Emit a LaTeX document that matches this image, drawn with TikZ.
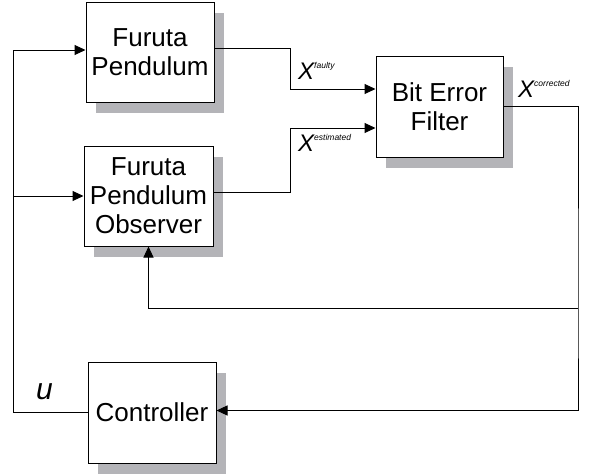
\documentclass[tikz,border=0pt]{standalone}
\usepackage{fontspec}
\setmainfont{Liberation Sans}
\usetikzlibrary{arrows.meta,shadows}
\definecolor{shadowgray}{RGB}{180,180,184}
\newcommand{\xsig}[1]{X\raisebox{10.5pt}{\fontsize{8.5}{8.5}\selectfont #1}}

\begin{document}
\begin{tikzpicture}[x=1pt, y=-1pt,
    blk/.style={draw, fill=white, line width=1pt, inner sep=0pt, align=center,
      font=\fontsize{26}{29}\selectfont,
      drop shadow={shadow xshift=10pt, shadow yshift=-11pt, fill=shadowgray, opacity=1}},
    arr/.style={line width=1pt, -{Triangle[length=11pt,width=10pt]}},
    lbl/.style={inner sep=0pt, anchor=base west, font=\fontsize{24}{24}\selectfont\itshape}]
    \useasboundingbox (0,0) rectangle (595,474);
    % blocks
    \node[blk, minimum width=128pt, minimum height=100pt] (pend) at (150,52) {Furuta\\Pendulum};
    \node[blk, minimum width=129pt, minimum height=100pt] (obs) at (148.5,196) {Furuta\\Pendulum\\Observer};
    \node[blk, minimum width=127pt, minimum height=101pt] (bef) at (439.5,106.5) {Bit Error\\Filter};
    \node[blk, minimum width=128pt, minimum height=101pt] (ctrl) at (152,412.5) {Controller};
    % bends
    \coordinate (bus) at (13,50);
    \coordinate (j1) at (290,89);
    \coordinate (j2) at (290,128);
    \coordinate (rb) at (578,308);
    % signals
    \draw[arr] (ctrl.west) -| (bus) -- (bus -| pend.west);
    \draw[arr] (bus |- obs.west) -- (obs.west);
    \draw[arr] ([yshift=4pt]pend.east) -| (j1) -- (j1 -| bef.west);
    \draw[arr] ([yshift=4pt]obs.east) -| (j2) -- (j2 -| bef.west);
    \draw[arr] (bef.east) -| (rb) |- ([yshift=2pt]ctrl.east);
    \draw[arr] (rb) -| (obs.south);
    % labels
    \node[lbl] (xf) at (298,79) {\xsig{faulty}};
    \node[lbl] (xe) at (298,151) {\xsig{estimated}};
    \node[lbl] (xc) at (518,97) {\xsig{corrected}};
    \node[lbl, font=\fontsize{30}{30}\selectfont\itshape] (u) at (36,399) {u};
\end{tikzpicture}
\end{document}
